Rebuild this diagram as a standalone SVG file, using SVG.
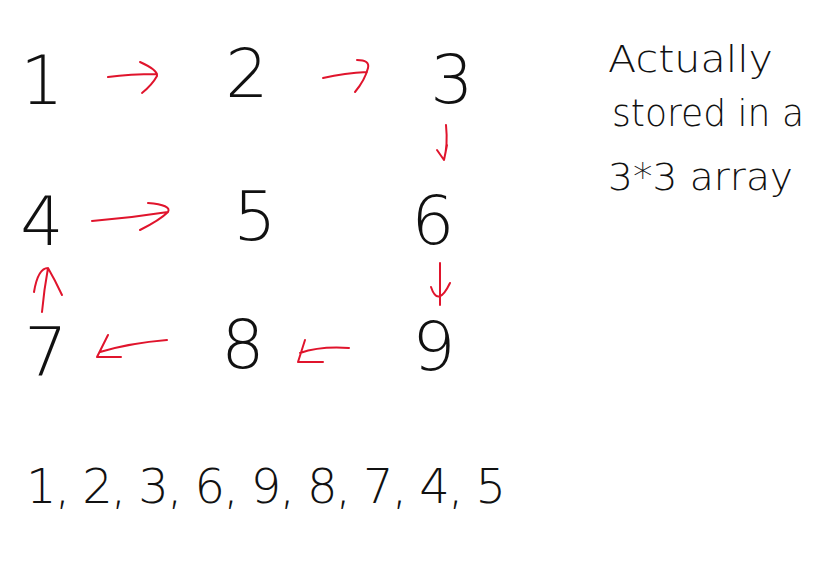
<svg xmlns="http://www.w3.org/2000/svg" width="830" height="566" viewBox="0 0 830 566">
<style>
.n{font-family:"DejaVu Sans","Liberation Sans",sans-serif;font-weight:200;font-size:68px;fill:#111;text-anchor:middle}
.t{font-family:"DejaVu Sans","Liberation Sans",sans-serif;font-weight:200;font-size:38px;fill:#111}
.s{font-family:"DejaVu Sans","Liberation Sans",sans-serif;font-weight:200;font-size:48px;fill:#111}
.a{fill:none;stroke:#e0142c;stroke-width:2;stroke-linecap:round;stroke-linejoin:round}
</style>
<rect width="830" height="566" fill="#fff"/>
<g id="n1"><text class="n" x="42" y="104">1</text></g>
<g id="n2"><text class="n" x="247" y="97">2</text></g>
<g id="n3"><text class="n" x="452" y="103">3</text></g>
<g id="n4"><text class="n" x="42" y="245">4</text></g>
<g id="n5"><text class="n" x="255" y="240">5</text></g>
<g id="n6"><text class="n" x="433" y="244">6</text></g>
<g id="n7"><text class="n" x="46" y="376">7</text></g>
<g id="n8"><text class="n" x="243" y="368">8</text></g>
<g id="n9"><text class="n" x="434" y="370">9</text></g>
<g id="note">
<text class="t" x="608" y="72" textLength="165" lengthAdjust="spacingAndGlyphs">Actually</text>
<text class="t" x="612" y="126" textLength="192" lengthAdjust="spacingAndGlyphs">stored in a</text>
<text class="t" x="608" y="190" textLength="185" lengthAdjust="spacingAndGlyphs">3*3 array</text>
</g>
<g id="sequence"><text class="s" x="26" y="503" textLength="480" lengthAdjust="spacing">1, 2, 3, 6, 9, 8, 7, 4, 5</text></g>
<g id="connectors">
<path class="a" d="M108,77 Q130,74 157,74 M140,62 Q158,70 157,76 Q152,85 142,93"/>
<path class="a" d="M323,78 Q345,73 367,72 M357,60 Q370,60 368,68 Q365,80 355,92"/>
<path class="a" d="M446,125 Q448,145 444,160 M437,150 L444,160 L447,145"/>
<path class="a" d="M92,221 Q130,218 168,212 M148,203 Q172,205 168,212 Q160,220 140,230"/>
<path class="a" d="M440,263 L440,305 M431,287 Q438,308 450,283"/>
<path class="a" d="M42,312 Q44,290 48,268 M34,292 Q38,268 48,268 Q55,280 62,295"/>
<path class="a" d="M167,340 Q130,343 100,352 M108,335 L97,357 L121,357"/>
<path class="a" d="M349,348 Q320,346 300,353 M305,340 L298,362 L323,362"/>
</g>
</svg>
